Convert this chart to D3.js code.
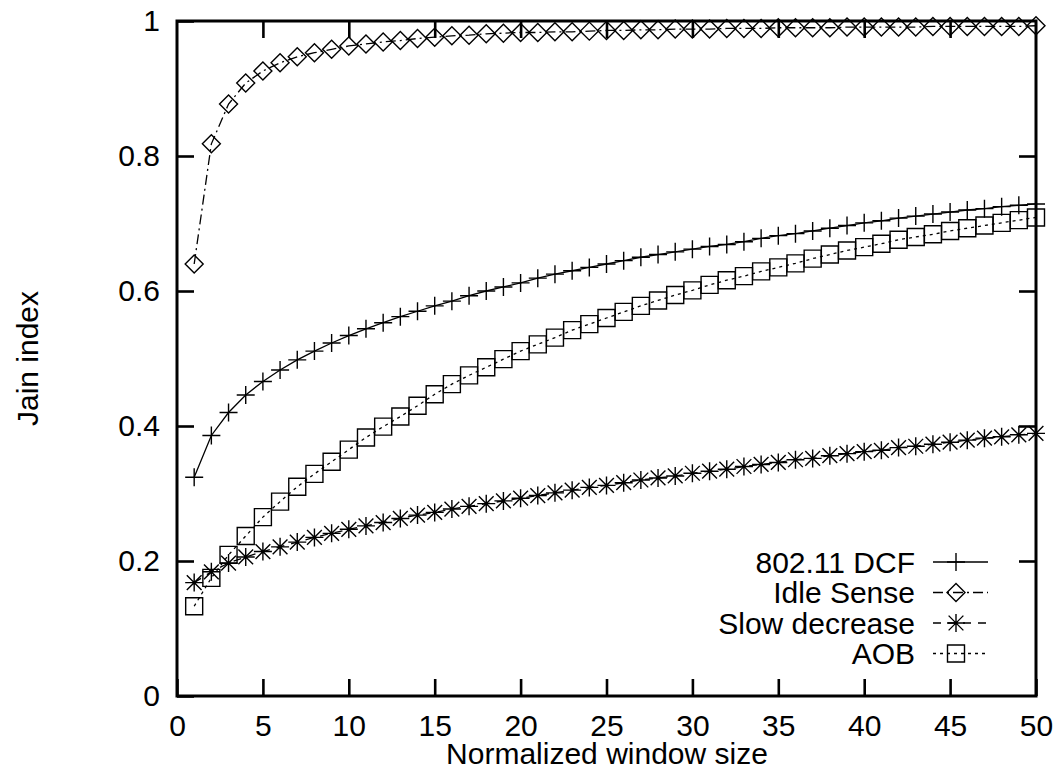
<!DOCTYPE html>
<html>
<head>
<meta charset="utf-8">
<script src="https://cdn.jsdelivr.net/npm/d3@7"></script>
<style>
  html, body { margin: 0; padding: 0; background: #fff; }
  svg { display: block; font-family: "Liberation Sans", Arial, sans-serif; }
</style>
</head>
<body>
<svg id="chart" width="1055" height="771"></svg>
<script>
/* ── Data ──────────────────────────────────────────────── */
const windowSizes = d3.range(1, 51);   // normalized window size 1..50

const dcf = [0.324, 0.386, 0.420, 0.446, 0.466, 0.483, 0.498, 0.511, 0.523, 0.534,
             0.544, 0.553, 0.562, 0.570, 0.578, 0.585, 0.593, 0.600, 0.606, 0.612,
             0.619, 0.625, 0.630, 0.635, 0.640, 0.645, 0.650, 0.654, 0.658, 0.662,
             0.666, 0.669, 0.673, 0.678, 0.682, 0.685, 0.689, 0.693, 0.697, 0.701,
             0.704, 0.708, 0.711, 0.714, 0.717, 0.720, 0.722, 0.725, 0.727, 0.729];

const idleSense = [0.640, 0.818, 0.877, 0.908, 0.926, 0.938, 0.947, 0.953, 0.958, 0.963,
                   0.966, 0.969, 0.971, 0.974, 0.976, 0.978, 0.979, 0.981, 0.982, 0.983,
                   0.983, 0.984, 0.984, 0.985, 0.986, 0.986, 0.987, 0.987, 0.988, 0.988,
                   0.988, 0.989, 0.989, 0.989, 0.990, 0.990, 0.990, 0.990, 0.991, 0.991,
                   0.991, 0.991, 0.991, 0.992, 0.992, 0.992, 0.992, 0.992, 0.992, 0.993];

const slowDecrease = [0.168, 0.184, 0.197, 0.206, 0.214, 0.221, 0.228, 0.235, 0.241, 0.247,
                      0.252, 0.257, 0.263, 0.268, 0.272, 0.277, 0.281, 0.285, 0.289, 0.293,
                      0.297, 0.301, 0.305, 0.309, 0.312, 0.316, 0.320, 0.323, 0.326, 0.330,
                      0.333, 0.336, 0.340, 0.343, 0.346, 0.350, 0.352, 0.356, 0.359, 0.362,
                      0.364, 0.368, 0.370, 0.373, 0.376, 0.379, 0.382, 0.384, 0.387, 0.389];

const aob = [0.133, 0.175, 0.209, 0.237, 0.265, 0.288, 0.310, 0.329, 0.347, 0.365,
             0.383, 0.399, 0.414, 0.430, 0.447, 0.462, 0.475, 0.487, 0.499, 0.511,
             0.521, 0.531, 0.542, 0.551, 0.560, 0.569, 0.578, 0.586, 0.594, 0.601,
             0.609, 0.616, 0.622, 0.629, 0.635, 0.641, 0.648, 0.654, 0.660, 0.665,
             0.670, 0.676, 0.680, 0.684, 0.689, 0.693, 0.697, 0.701, 0.705, 0.709];

const seriesNames = ['802.11 DCF', 'Idle Sense', 'Slow decrease', 'AOB'];
const xTicks = [0, 5, 10, 15, 20, 25, 30, 35, 40, 45, 50];
const yTicks = [0, 0.2, 0.4, 0.6, 0.8, 1];
const yTickLabels = ['0', '0.2', '0.4', '0.6', '0.8', '1'];

/* ── Gnuplot-ish point types as d3 symbol types ─────────── */
const symPlus = { draw(c, r) { c.moveTo(-r, 0); c.lineTo(r, 0); c.moveTo(0, -r); c.lineTo(0, r); } };
const symDiamond = { draw(c, r) { c.moveTo(0, -r); c.lineTo(r, 0); c.lineTo(0, r); c.lineTo(-r, 0); c.closePath(); } };
const symStar = { draw(c, r) {
  const d = r * 0.82;
  c.moveTo(-r, 0); c.lineTo(r, 0); c.moveTo(0, -r); c.lineTo(0, r);
  c.moveTo(-d, -d); c.lineTo(d, d); c.moveTo(-d, d); c.lineTo(d, -d);
} };
const symBox = { draw(c, r) { c.rect(-r, -r, 2 * r, 2 * r); } };

const series = [
  { name: seriesNames[0], values: dcf,          sym: symPlus,    size: 9,   dash: null },
  { name: seriesNames[1], values: idleSense,    sym: symDiamond, size: 9,   dash: '10,4,2,4' },
  { name: seriesNames[2], values: slowDecrease, sym: symStar,    size: 9,   dash: '8,7' },
  { name: seriesNames[3], values: aob,          sym: symBox,     size: 8.5, dash: '3,4' }
];

/* ── Layout ─────────────────────────────────────────────── */
const svg = d3.select('#chart');
const L = 177, R = 1036, T = 21, B = 696;

const x = d3.scaleLinear().domain([0, 50]).range([L, R]);
const y = d3.scaleLinear().domain([0, 1]).range([B, T]);

const tickLen = 17;
const fontSize = 30;

// axes: ticks drawn inward, mirrored on top/right
const axisStyle = g => {
  g.select('.domain').remove();
  g.selectAll('.tick line').attr('stroke', '#000').attr('stroke-width', 2.6);
  g.selectAll('.tick text').attr('fill', '#000').attr('font-size', fontSize)
    .attr('font-family', '"Liberation Sans", Arial, sans-serif');
};

svg.append('g').attr('transform', `translate(0,${B})`)
  .call(d3.axisBottom(x).tickValues(xTicks).tickSizeInner(-tickLen).tickSizeOuter(0).tickPadding(19))
  .call(axisStyle);
svg.append('g').attr('transform', `translate(0,${T})`)
  .call(d3.axisTop(x).tickValues(xTicks.slice(1, -1)).tickSizeInner(-tickLen).tickSizeOuter(0).tickFormat(''))
  .call(axisStyle);
svg.append('g').attr('transform', `translate(${L},0)`)
  .call(d3.axisLeft(y).tickValues(yTicks).tickSizeInner(-tickLen).tickSizeOuter(0).tickPadding(17)
    .tickFormat((d, i) => yTickLabels[i]))
  .call(axisStyle);
svg.append('g').attr('transform', `translate(${R},0)`)
  .call(d3.axisRight(y).tickValues(yTicks.slice(1, -1)).tickSizeInner(-tickLen).tickSizeOuter(0).tickFormat(''))
  .call(axisStyle);

// frame
svg.append('rect')
  .attr('x', L).attr('y', T).attr('width', R - L).attr('height', B - T)
  .attr('fill', 'none').attr('stroke', '#000').attr('stroke-width', 3);

// axis titles
svg.append('text')
  .attr('x', 607).attr('y', 764)
  .attr('text-anchor', 'middle').attr('font-size', fontSize)
  .text('Normalized window size');
svg.append('text')
  .attr('transform', `translate(38,${(T + B) / 2}) rotate(-90)`)
  .attr('text-anchor', 'middle').attr('font-size', fontSize)
  .text('Jain index');

/* ── Series ─────────────────────────────────────────────── */
const line = d3.line().x((d, i) => x(windowSizes[i])).y(d => y(d));

series.forEach(s => {
  const g = svg.append('g');
  g.append('path')
    .attr('d', line(s.values))
    .attr('fill', 'none').attr('stroke', '#000').attr('stroke-width', 1.3)
    .attr('stroke-dasharray', s.dash);
  g.selectAll('path.pt')
    .data(s.values)
    .enter().append('path')
    .attr('class', 'pt')
    .attr('d', d3.symbol().type(s.sym).size(s.size))
    .attr('transform', (d, i) => `translate(${x(windowSizes[i])},${y(d)})`)
    .attr('fill', 'none').attr('stroke', '#000').attr('stroke-width', 1.4);
});

/* ── Legend ─────────────────────────────────────────────── */
const legX = 915, legY0 = 562, legDy = 30.5;
const sampleX0 = 933, sampleX1 = 988, sampleMid = 956;

series.forEach((s, i) => {
  const yy = legY0 + i * legDy;
  svg.append('text')
    .attr('x', legX).attr('y', yy).attr('dy', '0.35em')
    .attr('text-anchor', 'end').attr('font-size', fontSize)
    .text(s.name);
  svg.append('line')
    .attr('x1', sampleX0).attr('x2', sampleX1).attr('y1', yy).attr('y2', yy)
    .attr('stroke', '#000').attr('stroke-width', 1.3)
    .attr('stroke-dasharray', s.dash);
  svg.append('path')
    .attr('d', d3.symbol().type(s.sym).size(s.size)())
    .attr('transform', `translate(${sampleMid},${yy})`)
    .attr('fill', 'none').attr('stroke', '#000').attr('stroke-width', 1.4);
});
</script>
</body>
</html>
